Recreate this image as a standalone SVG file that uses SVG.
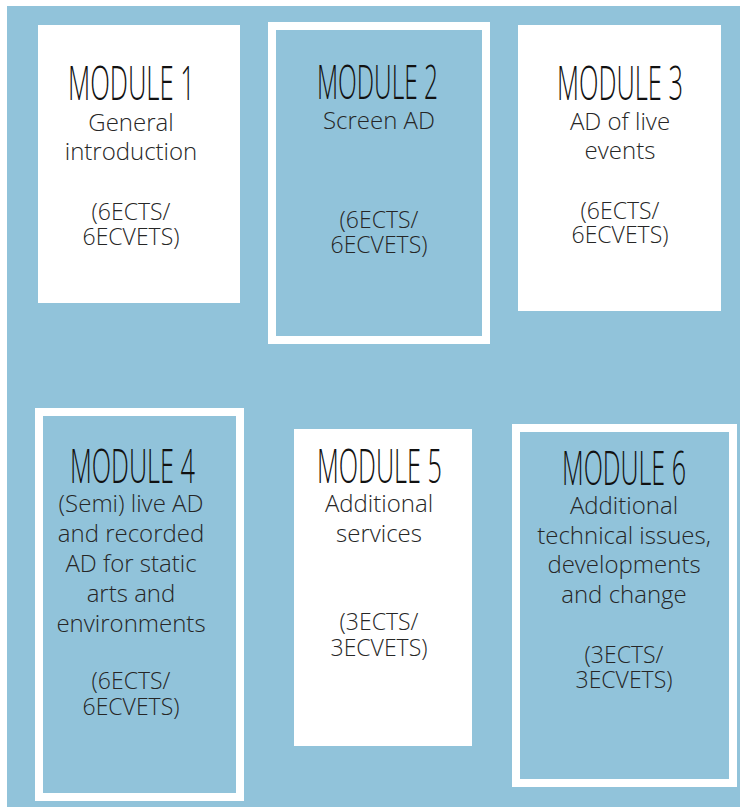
<svg xmlns="http://www.w3.org/2000/svg" width="740" height="807" viewBox="0 0 740 807">
  <style>
    .bg { fill: #91c3da; }
    .card { fill: #ffffff; }
    .frame { fill: #91c3da; stroke: #ffffff; stroke-width: 8; }
    .title { font-family: "Open Sans", "Liberation Sans", sans-serif; font-weight: 300; font-size: 48px; fill: #111111; text-anchor: middle; }
    .body { font-family: "Open Sans", "Liberation Sans", sans-serif; font-weight: 300; font-size: 24px; fill: #262626; text-anchor: middle; }
    .credit { font-family: "Open Sans", "Liberation Sans", sans-serif; font-weight: 300; font-size: 23px; fill: #262626; text-anchor: middle; }
  </style>

  <!-- page background -->
  <rect class="bg" x="7" y="6" width="733" height="801"/>

  <!-- Module 1 -->
  <g id="module1">
    <rect class="card" x="38" y="25" width="202" height="278"/>
    <text class="title" x="131.5" y="100" textLength="127" lengthAdjust="spacingAndGlyphs">MODULE 1</text>
    <text class="body" x="131" y="131">General</text>
    <text class="body" x="131" y="160">introduction</text>
    <text class="credit" x="131" y="220">(6ECTS/</text>
    <text class="credit" x="131" y="245">6ECVETS)</text>
  </g>

  <!-- Module 2 -->
  <g id="module2">
    <rect class="frame" x="272" y="26" width="214" height="314"/>
    <text class="title" x="377.5" y="99" textLength="121" lengthAdjust="spacingAndGlyphs">MODULE 2</text>
    <text class="body" x="379" y="129">Screen AD</text>
    <text class="credit" x="379" y="228">(6ECTS/</text>
    <text class="credit" x="379" y="253">6ECVETS)</text>
  </g>

  <!-- Module 3 -->
  <g id="module3">
    <rect class="card" x="518" y="25" width="203" height="286"/>
    <text class="title" x="620" y="100" textLength="126" lengthAdjust="spacingAndGlyphs">MODULE 3</text>
    <text class="body" x="620" y="130">AD of live</text>
    <text class="body" x="620" y="159">events</text>
    <text class="credit" x="620" y="219">(6ECTS/</text>
    <text class="credit" x="620" y="243">6ECVETS)</text>
  </g>

  <!-- Module 4 -->
  <g id="module4">
    <rect class="frame" x="39" y="412" width="201" height="385"/>
    <text class="title" x="132.5" y="483" textLength="125" lengthAdjust="spacingAndGlyphs">MODULE 4</text>
    <text class="body" x="131" y="512">(Semi) live AD</text>
    <text class="body" x="131" y="542">and recorded</text>
    <text class="body" x="131" y="572">AD for static</text>
    <text class="body" x="131" y="602">arts and</text>
    <text class="body" x="131" y="632">environments</text>
    <text class="credit" x="131" y="689">(6ECTS/</text>
    <text class="credit" x="131" y="715">6ECVETS)</text>
  </g>

  <!-- Module 5 -->
  <g id="module5">
    <rect class="card" x="294" y="429" width="178" height="317"/>
    <text class="title" x="379.5" y="483" textLength="125" lengthAdjust="spacingAndGlyphs">MODULE 5</text>
    <text class="body" x="379" y="512">Additional</text>
    <text class="body" x="379" y="542">services</text>
    <text class="credit" x="379" y="630">(3ECTS/</text>
    <text class="credit" x="379" y="656">3ECVETS)</text>
  </g>

  <!-- Module 6 -->
  <g id="module6">
    <rect class="frame" x="516" y="428" width="217" height="355"/>
    <text class="title" x="624" y="485" textLength="124" lengthAdjust="spacingAndGlyphs">MODULE 6</text>
    <text class="body" x="624" y="514">Additional</text>
    <text class="body" x="624" y="544">technical issues,</text>
    <text class="body" x="624" y="573">developments</text>
    <text class="body" x="624" y="603">and change</text>
    <text class="credit" x="624" y="663">(3ECTS/</text>
    <text class="credit" x="624" y="688">3ECVETS)</text>
  </g>

  <!-- no connectors in this layout -->
  <g id="connectors"/>
</svg>
